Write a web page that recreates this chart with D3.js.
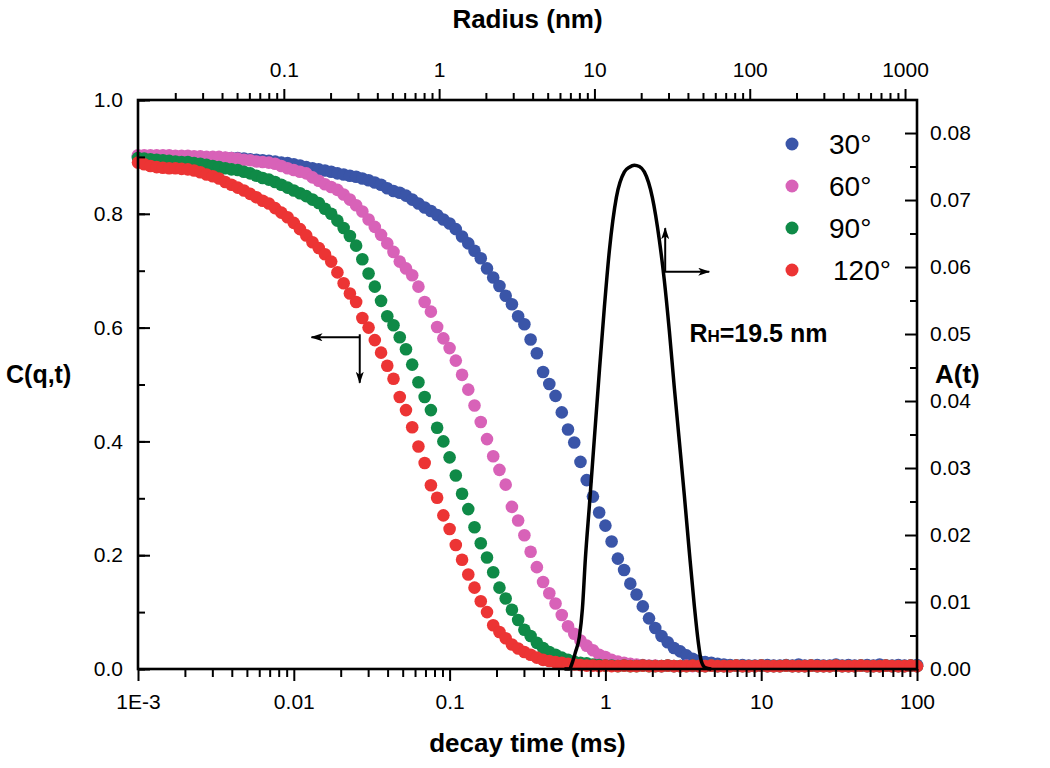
<!DOCTYPE html>
<html>
<head>
<meta charset="utf-8">
<script src="https://cdn.jsdelivr.net/npm/d3@7"></script>
<style>
  html, body { margin: 0; padding: 0; background: #fff; }
  svg { display: block; font-family: "Liberation Sans", Arial, sans-serif; }
</style>
</head>
<body>
<svg id="chart" width="1050" height="768"></svg>
<script>
// ---------------- DATA ----------------
// correlator lag times (ms)
const lagTimes = [
  1.000e-3,1.096e-3,1.202e-3,1.318e-3,1.445e-3,1.585e-3,1.738e-3,1.905e-3,2.089e-3,2.291e-3,
  2.512e-3,2.754e-3,3.020e-3,3.311e-3,3.631e-3,3.981e-3,4.365e-3,4.786e-3,5.248e-3,5.754e-3,
  6.310e-3,6.918e-3,7.586e-3,8.318e-3,9.120e-3,
  1.000e-2,1.096e-2,1.202e-2,1.318e-2,1.445e-2,1.585e-2,1.738e-2,1.905e-2,2.089e-2,2.291e-2,
  2.512e-2,2.754e-2,3.020e-2,3.311e-2,3.631e-2,3.981e-2,4.365e-2,4.786e-2,5.248e-2,5.754e-2,
  6.310e-2,6.918e-2,7.586e-2,8.318e-2,9.120e-2,
  1.000e-1,1.096e-1,1.202e-1,1.318e-1,1.445e-1,1.585e-1,1.738e-1,1.905e-1,2.089e-1,2.291e-1,
  2.512e-1,2.754e-1,3.020e-1,3.311e-1,3.631e-1,3.981e-1,4.365e-1,4.786e-1,5.248e-1,5.754e-1,
  6.310e-1,6.918e-1,7.586e-1,8.318e-1,9.120e-1,
  1.000,1.096,1.202,1.318,1.445,1.585,1.738,1.905,2.089,2.291,
  2.512,2.754,3.020,3.311,3.631,3.981,4.365,4.786,5.248,5.754,
  6.310,6.918,7.586,8.318,9.120,
  10.00,10.96,12.02,13.18,14.45,15.85,17.38,19.05,20.89,22.91,
  25.12,27.54,30.20,33.11,36.31,39.81,43.65,47.86,52.48,57.54,
  63.10,69.18,75.86,83.18,91.20,
  100.0
];

const c30 = [
  0.900,0.900,0.900,0.900,0.900,0.899,0.899,0.899,0.899,0.898,
  0.898,0.898,0.898,0.898,0.898,0.898,0.898,0.897,0.896,0.895,
  0.894,0.893,0.892,0.890,0.889,0.887,0.885,0.882,0.880,0.878,
  0.876,0.874,0.871,0.869,0.867,0.865,0.862,0.859,0.855,0.851,
  0.845,0.840,0.837,0.832,0.825,0.818,0.811,0.805,0.798,0.790,
  0.783,0.773,0.760,0.748,0.735,0.722,0.704,0.688,0.673,0.656,
  0.641,0.620,0.606,0.579,0.555,0.522,0.501,0.480,0.451,0.421,
  0.398,0.364,0.332,0.303,0.275,0.252,0.224,0.194,0.174,0.150,
  0.131,0.110,0.089,0.072,0.058,0.047,0.037,0.031,0.024,0.018,
  0.014,0.012,0.011,0.009,0.008,0.007,0.006,0.007,0.006,0.006,
  0.006,0.007,0.006,0.006,0.007,0.006,0.008,0.006,0.006,0.007,
  0.006,0.006,0.008,0.006,0.007,0.006,0.006,0.007,0.006,0.008,
  0.006,0.006,0.007,0.006,0.006,0.007
];

const c60 = [
  0.903,0.903,0.903,0.903,0.903,0.903,0.902,0.902,0.902,0.901,
  0.901,0.900,0.900,0.900,0.899,0.898,0.897,0.895,0.894,0.892,
  0.891,0.890,0.888,0.884,0.880,0.877,0.874,0.871,0.864,0.858,
  0.852,0.847,0.842,0.834,0.825,0.815,0.804,0.790,0.777,0.763,
  0.748,0.733,0.716,0.704,0.692,0.672,0.645,0.628,0.601,0.581,
  0.564,0.542,0.517,0.491,0.463,0.434,0.404,0.374,0.350,0.324,
  0.285,0.261,0.235,0.206,0.179,0.153,0.133,0.115,0.095,0.075,
  0.062,0.050,0.041,0.033,0.025,0.021,0.016,0.013,0.011,0.009,
  0.008,0.007,0.006,0.006,0.005,0.006,0.005,0.005,0.006,0.005,
  0.005,0.005,0.006,0.005,0.005,0.005,0.006,0.005,0.005,0.005,
  0.006,0.005,0.005,0.005,0.006,0.005,0.005,0.005,0.006,0.005,
  0.005,0.005,0.006,0.005,0.005,0.005,0.006,0.005,0.005,0.005,
  0.006,0.005,0.005,0.005,0.006,0.005
];

const c90 = [
  0.898,0.897,0.896,0.895,0.894,0.893,0.892,0.891,0.891,0.889,
  0.888,0.886,0.884,0.882,0.880,0.878,0.877,0.874,0.871,0.867,
  0.863,0.860,0.856,0.851,0.846,0.841,0.836,0.831,0.825,0.819,
  0.809,0.800,0.788,0.775,0.761,0.744,0.720,0.695,0.672,0.647,
  0.620,0.604,0.583,0.562,0.535,0.504,0.478,0.455,0.424,0.400,
  0.372,0.340,0.308,0.281,0.249,0.221,0.196,0.170,0.143,0.124,
  0.104,0.086,0.069,0.058,0.046,0.037,0.030,0.025,0.020,0.016,
  0.013,0.011,0.010,0.008,0.007,0.006,0.006,0.005,0.006,0.005,
  0.005,0.006,0.005,0.005,0.005,0.006,0.005,0.005,0.005,0.006,
  0.005,0.005,0.006,0.005,0.005,0.005,0.006,0.005,0.005,0.005,
  0.006,0.005,0.005,0.005,0.006,0.005,0.005,0.005,0.006,0.005,
  0.005,0.005,0.006,0.005,0.005,0.005,0.006,0.005,0.005,0.005,
  0.006,0.005,0.005,0.005,0.006,0.005
];

const c120 = [
  0.890,0.887,0.884,0.882,0.881,0.880,0.880,0.879,0.878,0.876,
  0.873,0.869,0.866,0.862,0.856,0.851,0.846,0.841,0.835,0.829,
  0.823,0.818,0.810,0.802,0.794,0.784,0.773,0.762,0.750,0.740,
  0.729,0.716,0.697,0.678,0.660,0.645,0.617,0.600,0.578,0.556,
  0.533,0.510,0.478,0.455,0.425,0.391,0.362,0.323,0.301,0.270,
  0.246,0.218,0.192,0.166,0.143,0.119,0.100,0.077,0.065,0.054,
  0.043,0.036,0.030,0.025,0.020,0.016,0.014,0.012,0.011,0.009,
  0.008,0.007,0.006,0.006,0.005,0.006,0.005,0.005,0.006,0.005,
  0.005,0.006,0.005,0.005,0.005,0.006,0.005,0.005,0.005,0.006,
  0.005,0.005,0.006,0.005,0.005,0.005,0.006,0.005,0.005,0.005,
  0.006,0.005,0.005,0.005,0.006,0.005,0.005,0.005,0.006,0.005,
  0.005,0.005,0.006,0.005,0.005,0.005,0.006,0.005,0.005,0.005,
  0.006,0.005,0.005,0.005,0.006,0.005
];

const seriesNames  = ["30°", "60°", "90°", "120°"];
const seriesValues = [c30, c60, c90, c120];
const seriesColors = ["#3a55a8", "#d862b8", "#0f8a47", "#ec3434"];

// distribution A(t) vs decay time (ms), right axis
const distTime = [0.546,0.588,0.614,0.642,0.681,0.712,0.744,0.790,0.850,0.915,0.985,1.061,1.176,1.324,1.425,1.534,1.652,1.778,2.001,2.220,2.389,2.572,2.769,2.982,3.209,3.456,3.720,3.947,4.125,4.375,4.780];
const distA    = [0,0,0.001,0.0025,0.0048,0.009,0.0165,0.0245,0.0345,0.0445,0.054,0.0625,0.0704,0.0742,0.0749,0.0752,0.0750,0.0742,0.0704,0.064,0.058,0.0505,0.042,0.034,0.026,0.0175,0.0095,0.004,0.0012,0.0002,0];

// tick labels
const bottomTicks = [1e-3, 1e-2, 1e-1, 1, 10, 100];
const bottomLabels = ["1E-3", "0.01", "0.1", "1", "10", "100"];
const topTicks = [0.1, 1, 10, 100, 1000];
const topLabels = ["0.1", "1", "10", "100", "1000"];
const leftTicks = [0, 0.2, 0.4, 0.6, 0.8, 1.0];
const rightTicks = [0, 0.01, 0.02, 0.03, 0.04, 0.05, 0.06, 0.07, 0.08];

// annotations (data units)
const leftArrow  = { t: 0.0265, c: 0.583, tEnd: 0.0130, cEnd: 0.503 };
const rightArrow = { t: 2.42, a: 0.0593, tEnd: 4.64, aEnd: 0.0658 };
const rhLabel    = { t: 3.46, a: 0.0488 };

// ---------------- LAYOUT ----------------
const L = 138, R = 917, T = 100, B = 669;
const svg = d3.select("#chart");

const x = d3.scaleLog().domain([1e-3, 100]).range([L, R]);
const xTop = d3.scaleLog().domain([0.01151, 1194]).range([L, R]);
const y = d3.scaleLinear().domain([0, 1.0]).range([B, T]);
const yR = d3.scaleLinear().domain([0, 0.08493]).range([B, T]);

const FONT = "Liberation Sans, Arial, sans-serif";

// defs: arrowhead
const defs = svg.append("defs");
defs.append("marker").attr("id", "ah").attr("viewBox", "0 0 12 8")
  .attr("refX", 11).attr("refY", 4).attr("markerWidth", 12).attr("markerHeight", 8)
  .attr("markerUnits", "userSpaceOnUse").attr("orient", "auto")
  .append("path").attr("d", "M0,0 L12,4 L0,8 L3,4 Z").attr("fill", "#000");

// ---------------- DOTS ----------------
const dotLayer = svg.append("g");
seriesValues.forEach((vals, si) => {
  dotLayer.append("g").selectAll("circle")
    .data(vals.map((v, i) => [lagTimes[i], v]))
    .join("circle")
    .attr("cx", d => x(d[0]))
    .attr("cy", d => y(d[1]))
    .attr("r", 6.3)
    .attr("fill", seriesColors[si]);
});

// ---------------- DISTRIBUTION LINE ----------------
const line = d3.line().x(d => x(d[0])).y(d => yR(d[1])).curve(d3.curveMonotoneX);
svg.append("path")
  .datum(distTime.map((t, i) => [t, distA[i]]))
  .attr("d", line)
  .attr("fill", "none").attr("stroke", "#000").attr("stroke-width", 3.5)
  .attr("stroke-linejoin", "round");

// ---------------- AXES ----------------
function styleAxis(g) {
  g.select(".domain").remove();
  g.selectAll(".tick line").attr("stroke", "#000").attr("stroke-width", 2);
  g.selectAll(".tick text").attr("fill", "#000").attr("font-size", 21).attr("font-family", FONT);
}

// bottom major + minor
const bMinor = x.ticks().filter(v => !bottomTicks.some(b => Math.abs(b - v) / b < 1e-6));
svg.append("g").attr("transform", `translate(0,${B})`)
  .call(d3.axisBottom(x).tickValues(bMinor).tickSize(8).tickFormat(""))
  .call(styleAxis);
svg.append("g").attr("transform", `translate(0,${B})`)
  .call(d3.axisBottom(x).tickValues(bottomTicks).tickSize(12).tickPadding(13)
    .tickFormat((d, i) => bottomLabels[i]))
  .call(styleAxis);

// top major + minor
const tMinor = xTop.ticks().filter(v => !topTicks.some(b => Math.abs(b - v) / b < 1e-6));
svg.append("g").attr("transform", `translate(0,${T})`)
  .call(d3.axisTop(xTop).tickValues(tMinor).tickSize(7).tickFormat(""))
  .call(styleAxis);
svg.append("g").attr("transform", `translate(0,${T})`)
  .call(d3.axisTop(xTop).tickValues(topTicks).tickSize(11).tickPadding(12)
    .tickFormat((d, i) => topLabels[i]))
  .call(styleAxis);

// left (inward ticks)
svg.append("g").attr("transform", `translate(${L},0)`)
  .call(d3.axisLeft(y).ticks(10).tickSize(-7).tickFormat(""))
  .call(styleAxis);
svg.append("g").attr("transform", `translate(${L},0)`)
  .call(d3.axisLeft(y).tickValues(leftTicks).tickSize(-12).tickPadding(15)
    .tickFormat(d3.format(".1f")))
  .call(styleAxis);

// right (inward ticks)
svg.append("g").attr("transform", `translate(${R},0)`)
  .call(d3.axisRight(yR).tickValues(d3.range(1, 17, 2).map(i => i * 0.005)).tickSize(-7).tickFormat(""))
  .call(styleAxis);
svg.append("g").attr("transform", `translate(${R},0)`)
  .call(d3.axisRight(yR).tickValues(rightTicks).tickSize(-12).tickPadding(13)
    .tickFormat(d3.format(".2f")))
  .call(styleAxis);

// frame
svg.append("rect").attr("x", L).attr("y", T).attr("width", R - L).attr("height", B - T)
  .attr("fill", "none").attr("stroke", "#000").attr("stroke-width", 2.6);

// ---------------- TITLES ----------------
svg.append("text").attr("x", (L + R) / 2).attr("y", 28).attr("text-anchor", "middle")
  .attr("font-size", 26).attr("font-weight", "bold").attr("font-family", FONT).text("Radius (nm)");
svg.append("text").attr("x", (L + R) / 2).attr("y", 752).attr("text-anchor", "middle")
  .attr("font-size", 26).attr("font-weight", "bold").attr("font-family", FONT).text("decay time (ms)");
svg.append("text").attr("x", 6).attr("y", 383)
  .attr("font-size", 25).attr("font-weight", "bold").attr("font-family", FONT).text("C(q,t)");
svg.append("text").attr("x", 935).attr("y", 383)
  .attr("font-size", 26).attr("font-weight", "bold").attr("font-family", FONT).text("A(t)");

// R_H label
const rh = svg.append("text").attr("x", x(rhLabel.t)).attr("y", yR(rhLabel.a))
  .attr("font-weight", "bold").attr("font-family", FONT).attr("font-size", 25);
rh.append("tspan").text("R");
rh.append("tspan").attr("font-size", 17).text("H");
rh.append("tspan").text("=19.5 nm");

// ---------------- ARROWS ----------------
const arr = svg.append("g").attr("stroke", "#000").attr("stroke-width", 2);
arr.append("line").attr("x1", x(leftArrow.t)).attr("y1", y(leftArrow.c))
  .attr("x2", x(leftArrow.tEnd)).attr("y2", y(leftArrow.c)).attr("marker-end", "url(#ah)");
arr.append("line").attr("x1", x(leftArrow.t)).attr("y1", y(leftArrow.c) - 3)
  .attr("x2", x(leftArrow.t)).attr("y2", y(leftArrow.cEnd)).attr("marker-end", "url(#ah)");
arr.append("line").attr("x1", x(rightArrow.t)).attr("y1", yR(rightArrow.a))
  .attr("x2", x(rightArrow.t)).attr("y2", yR(rightArrow.aEnd)).attr("marker-end", "url(#ah)");
arr.append("line").attr("x1", x(rightArrow.t) - 1).attr("y1", yR(rightArrow.a))
  .attr("x2", x(rightArrow.tEnd)).attr("y2", yR(rightArrow.a)).attr("marker-end", "url(#ah)");

// ---------------- LEGEND ----------------
const leg = svg.append("g").attr("transform", "translate(792,144)");
seriesNames.forEach((name, i) => {
  const g = leg.append("g").attr("transform", `translate(0,${i * 42})`);
  g.append("circle").attr("r", 6.5).attr("fill", seriesColors[i]);
  g.append("text").attr("x", i === 3 ? 41 : 37).attr("y", 10).attr("font-size", 28)
    .attr("font-family", FONT).attr("fill", "#000").text(name);
});
</script>
</body>
</html>
